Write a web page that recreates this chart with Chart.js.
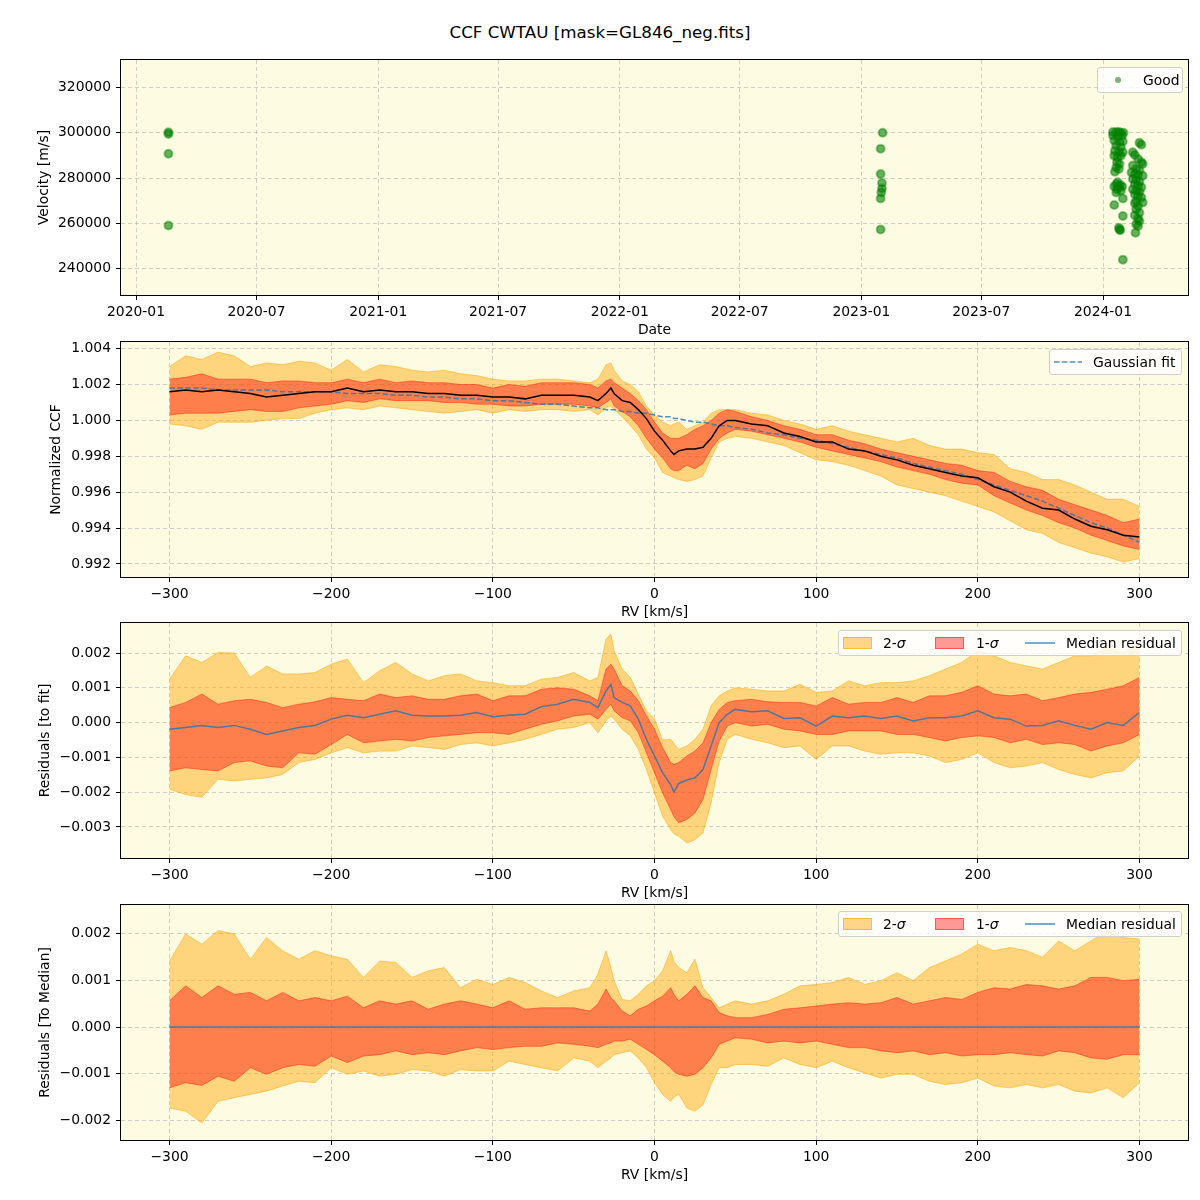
<!DOCTYPE html>
<html>
<head>
<meta charset="utf-8">
<script src="https://cdn.jsdelivr.net/npm/chart.js@4.4.1/dist/chart.umd.min.js"></script>
<style>
  html, body { margin: 0; padding: 0; background: #fff; }
  body { width: 1200px; height: 1200px; position: relative; font-family: 'DejaVu Sans', sans-serif; }
  #title { position: absolute; left: 0; width: 1200px; top: 21px; text-align: center; font-size: 16.7px; line-height: 22px; color: #000; }
  .panel { position: absolute; left: 0; width: 1200px; height: 296px; }
  .leg { position: absolute; box-sizing: border-box; height: 26px; background: rgba(255,255,255,0.8);
         border: 1px solid #cfcfcf; border-radius: 3px; font-size: 13.9px; color: #000; }
  .leg span.t { position: absolute; top: 0; line-height: 24px; white-space: nowrap; }
  .sw { position: absolute; top: 5.5px; height: 12px; box-sizing: border-box; }
  .sw2 { background: rgba(255,165,0,0.45); border: 1px solid rgba(255,165,0,0.6); }
  .sw1 { background: rgba(255,0,0,0.4); border: 1px solid rgba(255,0,0,0.45); }
  .leg svg { position: absolute; }
</style>
</head>
<body>
<div id="title">CCF CWTAU [mask=GL846_neg.fits]</div>

<div class="panel" style="top:44px"><canvas id="c1"></canvas></div>
<div class="panel" style="top:326px"><canvas id="c2"></canvas></div>
<div class="panel" style="top:607px"><canvas id="c3"></canvas></div>
<div class="panel" style="top:889px"><canvas id="c4"></canvas></div>

<!-- legends -->
<div class="leg" style="left:1097px; top:67px; width:86px;">
  <svg width="12" height="12" style="left:14px; top:6px"><circle cx="6" cy="6" r="3" fill="rgba(0,128,0,0.55)"/></svg>
  <span class="t" style="left:45px">Good</span>
</div>
<div class="leg" style="left:1049px; top:349px; width:133px;">
  <svg width="30" height="6" style="left:4px; top:9px"><line x1="0" y1="3" x2="28" y2="3" stroke="rgba(31,119,180,0.8)" stroke-width="1.5" stroke-dasharray="5.5 2.4"/></svg>
  <span class="t" style="left:43px">Gaussian fit</span>
</div>
<div class="leg" style="left:838px; top:630px; width:344px;">
  <div class="sw sw2" style="left:4px; width:29px"></div>
  <span class="t" style="left:44px">2-<i>σ</i></span>
  <div class="sw sw1" style="left:96px; width:29px"></div>
  <span class="t" style="left:137px">1-<i>σ</i></span>
  <svg width="32" height="6" style="left:186px; top:9px"><line x1="0" y1="3" x2="30" y2="3" stroke="rgba(31,119,180,0.8)" stroke-width="1.5"/></svg>
  <span class="t" style="left:227px">Median residual</span>
</div>
<div class="leg" style="left:838px; top:911px; width:344px;">
  <div class="sw sw2" style="left:4px; width:29px"></div>
  <span class="t" style="left:44px">2-<i>σ</i></span>
  <div class="sw sw1" style="left:96px; width:29px"></div>
  <span class="t" style="left:137px">1-<i>σ</i></span>
  <svg width="32" height="6" style="left:186px; top:9px"><line x1="0" y1="3" x2="30" y2="3" stroke="rgba(31,119,180,0.8)" stroke-width="1.5"/></svg>
  <span class="t" style="left:227px">Median residual</span>
</div>

<script>
// ---- DATA ----

// velocity time series (top panel)
const obsDates = [
  '2020-02-19','2020-02-19','2020-02-19','2020-02-19',
  '2023-02-02','2023-01-30','2023-01-30','2023-02-01','2023-02-01','2023-01-31','2023-01-30','2023-01-30',
  '2024-01-16','2024-01-21','2024-01-25','2024-01-28','2024-02-01','2024-01-16','2024-01-23','2024-01-30',
  '2024-01-18','2024-01-26','2024-01-31','2024-01-21','2024-01-28','2024-01-19','2024-01-25','2024-01-31',
  '2024-01-18','2024-01-23','2024-01-28','2024-01-22','2024-01-26','2024-01-21','2024-01-25','2024-01-19',
  '2024-01-23','2024-01-21','2024-01-27','2024-01-18','2024-01-25','2024-01-30','2024-01-22','2024-01-28',
  '2024-01-21','2024-01-31','2024-01-18','2024-01-31','2024-01-25','2024-01-26','2024-01-27','2024-01-31',
  '2024-02-25','2024-02-28','2024-02-15','2024-02-18','2024-02-23','2024-02-28','2024-03-01','2024-02-15',
  '2024-02-20','2024-02-25','2024-02-13','2024-02-18','2024-02-23','2024-03-01','2024-02-15','2024-02-20',
  '2024-02-25','2024-02-18','2024-02-23','2024-02-28','2024-02-15','2024-02-20','2024-02-25','2024-02-18',
  '2024-02-23','2024-02-28','2024-02-20','2024-03-01','2024-02-18','2024-02-23','2024-02-20','2024-02-25',
  '2024-02-18','2024-02-23','2024-02-25','2024-02-20','2024-02-23','2024-02-19'
];
const obsVel = [
  300200, 299500, 290700, 259100,
  300000, 292900, 281800, 277800, 275400, 273600, 271000, 257300,
  300300, 300300, 300300, 300000, 300000, 298800, 298100, 298800,
  296600, 295900, 296100, 294400, 293600, 292100, 291400, 291400,
  289900, 289200, 289900, 287000, 286200, 284700, 284000, 282800,
  278100, 277300, 276900, 276300, 275900, 276300, 275100, 274400,
  273600, 271000, 268100, 263300, 258100, 257300, 257000, 244000,
  295600, 294700, 291400, 290200, 288400, 287000, 286200, 285500,
  284000, 283300, 282500, 281800, 281300, 281000, 279600, 279300,
  278400, 277300, 276600, 275900, 275100, 274400, 273900, 272900,
  272100, 271400, 269900, 269200, 268900, 267700, 266200, 264700,
  263600, 262100, 261000, 259600, 258800, 255900
];
const dateTicks = ['2020-01','2020-07','2021-01','2021-07','2022-01','2022-07','2023-01','2023-07','2024-01'];
const velTicks = [240000, 260000, 280000, 300000, 320000];

// RV grid (km/s)
const rv = [
  -300,-290,-280,-270,-260,-250,-240,-230,-220,-210,
  -200,-190,-180,-170,-160,-150,-140,-130,-120,-110,
  -100,-90,-80,-70,-60,-50,-40,-35,-30,-27,
  -25,-20,-15,-10,-5,0,5,10,12,15,
  20,25,30,35,40,45,50,60,70,80,
  90,100,110,120,130,140,150,160,170,180,
  190,200,210,220,230,240,250,260,270,280,
  290,300
];
const rvTicks = [-300, -200, -100, 0, 100, 200, 300];

// normalized CCF (second panel)
const ccfMed = [
  1.0016,1.0017,1.0016,1.0017,1.0016,1.0015,1.0013,1.0014,1.0015,1.0016,
  1.0016,1.0018,1.0016,1.0017,1.0016,1.0016,1.0015,1.0015,1.0014,1.0014,
  1.0013,1.0013,1.0012,1.0014,1.0014,1.0014,1.0013,1.0011,1.0015,1.0018,
  1.0015,1.0011,1.0010,1.0006,1.0001,0.9994,0.9989,0.9983,0.9981,0.9983,
  0.9984,0.9984,0.9985,0.9990,0.9997,1.0000,1.0000,0.9998,0.9997,0.9993,
  0.9991,0.9988,0.9988,0.9984,0.9983,0.9980,0.9978,0.9975,0.9973,0.9971,
  0.9969,0.9968,0.9963,0.9960,0.9955,0.9951,0.9950,0.9945,0.9941,0.9939,
  0.9936,0.9935
];
const ccfFit = [
  1.0018,1.0018,1.0018,1.0017,1.0017,1.0017,1.0017,1.0016,1.0016,1.0016,
  1.0016,1.0015,1.0015,1.0015,1.0014,1.0014,1.0013,1.0013,1.0012,1.0012,
  1.0011,1.0011,1.0010,1.0009,1.0009,1.0008,1.0007,1.0007,1.0006,1.0006,
  1.0006,1.0005,1.0005,1.0004,1.0004,1.0003,1.0002,1.0002,1.0001,1.0001,
  1.0000,0.9999,0.9999,0.9998,0.9997,0.9997,0.9996,0.9995,0.9993,0.9992,
  0.9990,0.9989,0.9987,0.9985,0.9983,0.9981,0.9979,0.9976,0.9974,0.9972,
  0.9970,0.9967,0.9964,0.9961,0.9958,0.9955,0.9951,0.9947,0.9943,0.9940,
  0.9936,0.9932
];
const ccf1Hi = [
  1.0023,1.0024,1.0026,1.0023,1.0023,1.0023,1.0021,1.0022,1.0022,1.0021,
  1.0021,1.0023,1.0021,1.0023,1.0021,1.0022,1.0021,1.0021,1.0020,1.0020,
  1.0018,1.0020,1.0019,1.0021,1.0021,1.0021,1.0020,1.0018,1.0022,1.0023,
  1.0021,1.0018,1.0015,1.0011,1.0006,0.9999,0.9993,0.9990,0.9990,0.9990,
  0.9992,0.9995,0.9997,1.0000,1.0004,1.0006,1.0005,1.0002,1.0000,0.9997,
  0.9995,0.9992,0.9992,0.9989,0.9987,0.9984,0.9982,0.9980,0.9978,0.9976,
  0.9975,0.9972,0.9971,0.9966,0.9963,0.9961,0.9956,0.9953,0.9950,0.9947,
  0.9943,0.9945
];
const ccf1Lo = [
  1.0003,1.0004,1.0004,1.0004,1.0005,1.0006,1.0005,1.0005,1.0007,1.0008,
  1.0009,1.0011,1.0010,1.0012,1.0011,1.0011,1.0011,1.0010,1.0010,1.0009,
  1.0009,1.0008,1.0008,1.0009,1.0009,1.0009,1.0008,1.0007,1.0010,1.0012,
  1.0008,1.0005,1.0002,0.9997,0.9990,0.9984,0.9979,0.9973,0.9972,0.9972,
  0.9975,0.9973,0.9976,0.9984,0.9990,0.9993,0.9995,0.9994,0.9992,0.9990,
  0.9988,0.9985,0.9983,0.9981,0.9979,0.9977,0.9974,0.9972,0.9970,0.9967,
  0.9965,0.9964,0.9958,0.9954,0.9950,0.9947,0.9943,0.9940,0.9936,0.9933,
  0.9930,0.9928
];
const ccf2Hi = [
  1.0030,1.0036,1.0034,1.0038,1.0036,1.0030,1.0032,1.0031,1.0033,1.0032,
  1.0028,1.0034,1.0027,1.0031,1.0030,1.0028,1.0027,1.0028,1.0026,1.0025,
  1.0023,1.0022,1.0022,1.0023,1.0023,1.0022,1.0021,1.0023,1.0031,1.0032,
  1.0028,1.0022,1.0020,1.0016,1.0008,1.0003,0.9999,0.9997,0.9998,0.9999,
  0.9995,0.9997,0.9999,1.0004,1.0006,1.0006,1.0006,1.0004,1.0003,1.0000,
  0.9998,0.9995,0.9997,0.9994,0.9992,0.9990,0.9988,0.9990,0.9986,0.9984,
  0.9984,0.9982,0.9981,0.9973,0.9971,0.9967,0.9967,0.9964,0.9960,0.9956,
  0.9956,0.9952
];
const ccf2Lo = [
  0.9998,0.9997,0.9995,0.9999,0.9999,0.9999,1.0000,1.0001,1.0001,1.0004,
  1.0006,1.0007,1.0006,1.0008,1.0007,1.0006,1.0005,1.0004,1.0005,1.0006,
  1.0004,1.0006,1.0005,1.0006,1.0006,1.0005,1.0006,1.0003,1.0007,1.0008,
  1.0006,1.0002,0.9997,0.9992,0.9984,0.9979,0.9971,0.9969,0.9968,0.9967,
  0.9966,0.9967,0.9969,0.9979,0.9988,0.9990,0.9991,0.9990,0.9988,0.9986,
  0.9982,0.9978,0.9977,0.9975,0.9972,0.9969,0.9964,0.9962,0.9960,0.9958,
  0.9955,0.9952,0.9949,0.9944,0.9939,0.9937,0.9932,0.9929,0.9926,0.9924,
  0.9921,0.9923
];
const ccfTicks = [0.992, 0.994, 0.996, 0.998, 1.000, 1.002, 1.004];

// residuals to fit (third panel)
const resMed = [
  -0.00019,-0.00014,-0.00008,-0.00014,-0.00008,-0.00019,-0.00034,-0.00024,-0.00014,-0.00008,
  0.0001,0.00021,0.00014,0.00024,0.00034,0.00021,0.00019,0.00019,0.00021,0.00029,
  0.00017,0.00021,0.00024,0.00046,0.00053,0.00067,0.00058,0.00043,0.00091,0.0011,
  0.00072,0.00058,0.00048,0.0001,-0.00048,-0.00096,-0.00144,-0.00178,-0.002,-0.00175,
  -0.00165,-0.00159,-0.00135,-0.00067,0,0.00024,0.00038,0.00031,0.00034,0.00012,
  0.00014,-0.0001,0.00019,0.00014,0.00019,0.00012,0.00019,0.00005,0.00014,0.00014,
  0.00019,0.00034,0.00014,0.0001,-0.0001,-0.00008,0.00005,-0.00008,-0.00019,0,
  -0.00008,0.00029
];
const res1Hi = [
  0.00043,0.00058,0.00082,0.00053,0.00063,0.00067,0.00058,0.00043,0.00053,0.0006,
  0.00072,0.00067,0.00063,0.00082,0.00072,0.00077,0.00067,0.00067,0.00077,0.00082,
  0.00063,0.00077,0.00077,0.00096,0.001,0.00096,0.00077,0.00063,0.00154,0.00168,
  0.00154,0.00106,0.00091,0.00063,0.00019,-0.00019,-0.00072,-0.00115,-0.0012,-0.00115,
  -0.00096,-0.00082,-0.00058,0,0.00038,0.00058,0.00063,0.00067,0.0006,0.00058,
  0.00058,0.00048,0.00072,0.00053,0.00058,0.00058,0.00072,0.00058,0.00077,0.00077,
  0.00087,0.00106,0.00082,0.00077,0.00082,0.00063,0.00072,0.00082,0.00087,0.00096,
  0.00106,0.0013
];
const res1Lo = [
  -0.00139,-0.0013,-0.00135,-0.00139,-0.00115,-0.0011,-0.00125,-0.0013,-0.00087,-0.00091,
  -0.00063,-0.00034,-0.00058,-0.00053,-0.00048,-0.00053,-0.00043,-0.00038,-0.00034,-0.00029,
  -0.00029,-0.00034,-0.00019,-0.00005,0.00005,0.00019,0.00024,0.0001,0.00038,0.00053,
  0.00034,0.00014,0.00005,-0.00029,-0.00087,-0.00144,-0.00202,-0.0025,-0.0027,-0.00288,
  -0.00279,-0.0026,-0.00221,-0.00135,-0.00053,-0.0001,0,-0.0001,-0.00005,-0.00019,
  -0.00024,-0.00034,-0.00034,-0.00024,-0.00024,-0.00024,-0.00034,-0.00034,-0.00043,-0.00053,
  -0.00043,-0.00038,-0.00043,-0.00058,-0.00048,-0.00063,-0.00058,-0.00063,-0.00082,-0.00067,
  -0.00058,-0.00034
];
const res2Hi = [
  0.00125,0.00192,0.00173,0.00202,0.002,0.0013,0.00163,0.0014,0.0014,0.00144,
  0.00168,0.00183,0.00115,0.00149,0.00173,0.0014,0.0012,0.00135,0.0014,0.0012,
  0.00115,0.00106,0.00106,0.00125,0.0013,0.00144,0.0012,0.0013,0.0024,0.00255,
  0.00207,0.00154,0.0013,0.00082,0.00034,0.0001,-0.0005,-0.00048,-0.0006,-0.00077,
  -0.00067,-0.00048,-0.00019,0.00048,0.00077,0.00091,0.001,0.00096,0.00091,0.00091,
  0.0011,0.00087,0.00091,0.0012,0.00106,0.00115,0.00115,0.0012,0.00135,0.00154,
  0.00173,0.00207,0.00192,0.00173,0.00163,0.00154,0.00173,0.00192,0.00192,0.00216,
  0.00202,0.00226
];
const res2Lo = [
  -0.00192,-0.00207,-0.00215,-0.00163,-0.00168,-0.00163,-0.00159,-0.00149,-0.00115,-0.00106,
  -0.00087,-0.00072,-0.00087,-0.00082,-0.00082,-0.00067,-0.00072,-0.00077,-0.00063,-0.00058,
  -0.00067,-0.00058,-0.00048,-0.00034,-0.00019,-0.00014,0,-0.00029,0.00005,0.00019,
  0.0001,-0.00019,-0.00038,-0.00077,-0.00135,-0.00202,-0.00269,-0.00308,-0.0032,-0.00327,
  -0.00346,-0.00337,-0.00317,-0.00231,-0.00115,-0.00048,-0.00034,-0.00048,-0.00058,-0.00072,
  -0.00067,-0.00106,-0.00067,-0.00067,-0.00082,-0.00091,-0.00087,-0.00087,-0.00096,-0.00115,
  -0.00106,-0.00087,-0.00115,-0.0013,-0.00125,-0.00115,-0.00135,-0.00149,-0.00159,-0.00144,
  -0.00139,-0.00096
];
const res3Ticks = [-0.003, -0.002, -0.001, 0, 0.001, 0.002];

// residuals to median (bottom panel)
const medRv = [-300, 300];
const medZero = [0, 0];
const spread1Hi = [
  0.00056,0.00088,0.00063,0.00088,0.0007,0.00074,0.00056,0.00074,0.00056,0.00063,
  0.00056,0.00066,0.00041,0.00056,0.00049,0.00056,0.00038,0.00049,0.00056,0.00049,
  0.00041,0.00056,0.00038,0.00041,0.00041,0.00041,0.00034,0.00049,0.00081,0.00063,
  0.00056,0.00034,0.00024,0.00038,0.00045,0.00056,0.00066,0.00084,0.0007,0.00056,
  0.0007,0.00088,0.00063,0.00056,0.00031,0.00024,0.0002,0.0002,0.00027,0.00038,
  0.00041,0.00045,0.00049,0.00052,0.00049,0.00052,0.00063,0.00049,0.00056,0.00063,
  0.00059,0.00074,0.00084,0.00081,0.00091,0.00088,0.00081,0.00088,0.00106,0.00106,
  0.00099,0.00102
];
const spread1Lo = [
  -0.0013,-0.00119,-0.00125,-0.00105,-0.00116,-0.00087,-0.00101,-0.00087,-0.0008,-0.00084,
  -0.00062,-0.00076,-0.00062,-0.00059,-0.00051,-0.00059,-0.00055,-0.00059,-0.00051,-0.00044,
  -0.00048,-0.00044,-0.00041,-0.00041,-0.00034,-0.00037,-0.00041,-0.00044,-0.00037,-0.00034,
  -0.0003,-0.0003,-0.00026,-0.00037,-0.00048,-0.00059,-0.00073,-0.00087,-0.00095,-0.00101,
  -0.00105,-0.00101,-0.00087,-0.00066,-0.00037,-0.0003,-0.00023,-0.00026,-0.00034,-0.0003,
  -0.00034,-0.0003,-0.00037,-0.00044,-0.00044,-0.00051,-0.00055,-0.00051,-0.00059,-0.00055,
  -0.00062,-0.00059,-0.00059,-0.00055,-0.00059,-0.00062,-0.00051,-0.00055,-0.00066,-0.00069,
  -0.00059,-0.00059
];
const spread2Hi = [
  0.00141,0.00199,0.00177,0.00206,0.00199,0.00145,0.00191,0.00163,0.00145,0.00163,
  0.00152,0.00145,0.00106,0.00141,0.00138,0.00106,0.0012,0.00127,0.00084,0.00102,
  0.00091,0.00106,0.00095,0.00077,0.00063,0.00077,0.00084,0.00113,0.00163,0.00127,
  0.00099,0.00059,0.00056,0.0007,0.00088,0.00099,0.0012,0.00163,0.0014,0.00127,
  0.00116,0.00145,0.00084,0.00063,0.00041,0.00049,0.00056,0.00049,0.00056,0.0007,
  0.00088,0.00091,0.00095,0.00106,0.00091,0.00099,0.00116,0.00099,0.00127,0.00141,
  0.00156,0.00177,0.00163,0.0017,0.00163,0.00149,0.00184,0.00163,0.00184,0.00206,
  0.00191,0.00188
];
const spread2Lo = [
  -0.00173,-0.0018,-0.00205,-0.00159,-0.00151,-0.00144,-0.00137,-0.00126,-0.00116,-0.00119,
  -0.00087,-0.00101,-0.00094,-0.00105,-0.00101,-0.00091,-0.00094,-0.00105,-0.00091,-0.00094,
  -0.00094,-0.00073,-0.0008,-0.00087,-0.00094,-0.00066,-0.00073,-0.00087,-0.00073,-0.00066,
  -0.00059,-0.00055,-0.00051,-0.00066,-0.00087,-0.00119,-0.00144,-0.00159,-0.0015,-0.00144,
  -0.00173,-0.0018,-0.00166,-0.00123,-0.00087,-0.00087,-0.0008,-0.0008,-0.00084,-0.00066,
  -0.0008,-0.00087,-0.00073,-0.00087,-0.00098,-0.00109,-0.00101,-0.00101,-0.00116,-0.00123,
  -0.00119,-0.00109,-0.00126,-0.0013,-0.00123,-0.0013,-0.00123,-0.00137,-0.00141,-0.0013,
  -0.00151,-0.00119
];
const res4Ticks = [-0.002, -0.001, 0, 0.001, 0.002];

// ---- STYLE ----
const BG = 'rgb(254,251,227)';
const GRID = 'rgba(176,176,176,0.6)';
const ORANGE_FILL = 'rgba(255,165,0,0.45)';
const ORANGE_EDGE = 'rgba(255,165,0,0.5)';
const RED_FILL = 'rgba(255,0,0,0.4)';
const RED_EDGE = 'rgba(255,0,0,0.4)';
const BLUE = 'rgba(31,119,180,0.8)';

Chart.defaults.font.family = "'DejaVu Sans', sans-serif";
Chart.defaults.font.size = 13.9;
Chart.defaults.color = '#000';

const minus = s => s.replace('-', '\u2212');
const pts = (xs, ys) => xs.map((x, i) => ({ x: x, y: ys[i] }));
const DAY = 86400000;

// background + frame around the plot area
const framePlugin = {
  id: 'frame',
  beforeDraw(chart) {
    const a = chart.chartArea, ctx = chart.ctx;
    ctx.save();
    ctx.fillStyle = BG;
    ctx.fillRect(a.left, a.top, a.right - a.left, a.bottom - a.top);
    ctx.restore();
  },
  afterDraw(chart) {
    const a = chart.chartArea, ctx = chart.ctx;
    ctx.save();
    ctx.strokeStyle = '#000';
    ctx.lineWidth = 1;
    ctx.strokeRect(Math.round(a.left) - 0.5, Math.round(a.top) - 0.5,
                   Math.round(a.right - a.left) + 1, Math.round(a.bottom - a.top) + 1);
    ctx.restore();
  }
};

function xScale(min, max, ticks, fmt, title) {
  return {
    type: 'linear', min: min, max: max,
    afterBuildTicks: s => { s.ticks = ticks.map(v => ({ value: v })); },
    afterFit: s => { s.height = 45; },
    ticks: { autoSkip: false, maxRotation: 0, padding: 4, callback: fmt },
    grid: { color: GRID, lineWidth: 1, tickLength: 5, tickColor: '#000', tickWidth: 1 },
    border: { display: false, dash: [4, 3] },
    title: { display: true, text: title, padding: { top: 0, bottom: 1 } }
  };
}

function yScale(min, max, ticks, fmt, title, titlePad) {
  return {
    type: 'linear', min: min, max: max,
    afterBuildTicks: s => { s.ticks = ticks.map(v => ({ value: v })); },
    afterFit: s => { s.width = 121; },
    ticks: { autoSkip: false, padding: 5, callback: fmt },
    grid: { color: GRID, lineWidth: 1, tickLength: 5, tickColor: '#000', tickWidth: 1 },
    border: { display: false, dash: [4, 3] },
    title: { display: true, text: title, padding: { top: titlePad, bottom: 0 } }
  };
}

function baseOptions(scales) {
  return {
    responsive: true,
    maintainAspectRatio: false,
    animation: false,
    events: [],
    layout: { padding: { left: 0, right: 12, top: 16, bottom: 0 } },
    plugins: { legend: { display: false }, tooltip: { enabled: false }, filler: { drawTime: 'beforeDatasetsDraw' } },
    scales: scales
  };
}

function band(ysHi, ysLo, fill, edge, order) {
  return [
    { data: pts(rv, ysHi), borderColor: edge, backgroundColor: fill, borderWidth: 1, fill: '+1', pointRadius: 0, order: order },
    { data: pts(rv, ysLo), borderColor: edge, backgroundColor: fill, borderWidth: 1, fill: false, pointRadius: 0, order: order }
  ];
}

const fmtRv = v => minus(String(v));
const fmtRes = v => minus(v.toFixed(3));

// ---- PANEL 1: velocities ----
const t0 = Date.parse('2020-01-01');
const dateTickVals = dateTicks.map(d => Date.parse(d + '-01'));
new Chart(document.getElementById('c1'), {
  type: 'scatter',
  data: {
    datasets: [{
      data: pts(obsDates.map(d => Date.parse(d)), obsVel),
      backgroundColor: 'rgba(0,128,0,0.6)',
      borderColor: 'rgba(0,128,0,0.4)',
      borderWidth: 2,
      pointRadius: 4
    }]
  },
  options: baseOptions({
    x: xScale(t0 - 22.7 * DAY, t0 + 1589.4 * DAY, dateTickVals, (v, i) => dateTicks[i], 'Date'),
    y: yScale(228400, 332100, velTicks, v => String(v), 'Velocity [m/s]', 36)
  }),
  plugins: [framePlugin]
});

// ---- PANEL 2: normalized CCF ----
new Chart(document.getElementById('c2'), {
  type: 'line',
  data: {
    datasets: [
      { data: pts(rv, ccfMed), borderColor: '#000', borderWidth: 1.5, pointRadius: 0, fill: false, order: 1 },
      { data: pts(rv, ccfFit), borderColor: BLUE, borderWidth: 1.5, borderDash: [5.5, 2.4], pointRadius: 0, fill: false, order: 2 },
      ...band(ccf1Hi, ccf1Lo, RED_FILL, RED_EDGE, 3),
      ...band(ccf2Hi, ccf2Lo, ORANGE_FILL, ORANGE_EDGE, 4)
    ]
  },
  options: baseOptions({
    x: xScale(-330, 330, rvTicks, fmtRv, 'RV [km/s]'),
    y: yScale(0.99127, 1.00437, ccfTicks, v => v.toFixed(3), 'Normalized CCF', 48)
  }),
  plugins: [framePlugin]
});

// ---- PANEL 3: residuals to fit ----
new Chart(document.getElementById('c3'), {
  type: 'line',
  data: {
    datasets: [
      { data: pts(rv, resMed), borderColor: BLUE, borderWidth: 1.5, pointRadius: 0, fill: false, order: 1 },
      ...band(res1Hi, res1Lo, RED_FILL, RED_EDGE, 3),
      ...band(res2Hi, res2Lo, ORANGE_FILL, ORANGE_EDGE, 4)
    ]
  },
  options: baseOptions({
    x: xScale(-330, 330, rvTicks, fmtRv, 'RV [km/s]'),
    y: yScale(-0.003894, 0.002865, res3Ticks, fmtRes, 'Residuals [to fit]', 37)
  }),
  plugins: [framePlugin]
});

// ---- PANEL 4: residuals to median ----
new Chart(document.getElementById('c4'), {
  type: 'line',
  data: {
    datasets: [
      { data: pts(medRv, medZero), borderColor: BLUE, borderWidth: 1.5, pointRadius: 0, fill: false, order: 1 },
      ...band(spread1Hi, spread1Lo, RED_FILL, RED_EDGE, 3),
      ...band(spread2Hi, spread2Lo, ORANGE_FILL, ORANGE_EDGE, 4)
    ]
  },
  options: baseOptions({
    x: xScale(-330, 330, rvTicks, fmtRv, 'RV [km/s]'),
    y: yScale(-0.002414, 0.002607, res4Ticks, fmtRes, 'Residuals [To Median]', 37)
  }),
  plugins: [framePlugin]
});
</script>
</body>
</html>
